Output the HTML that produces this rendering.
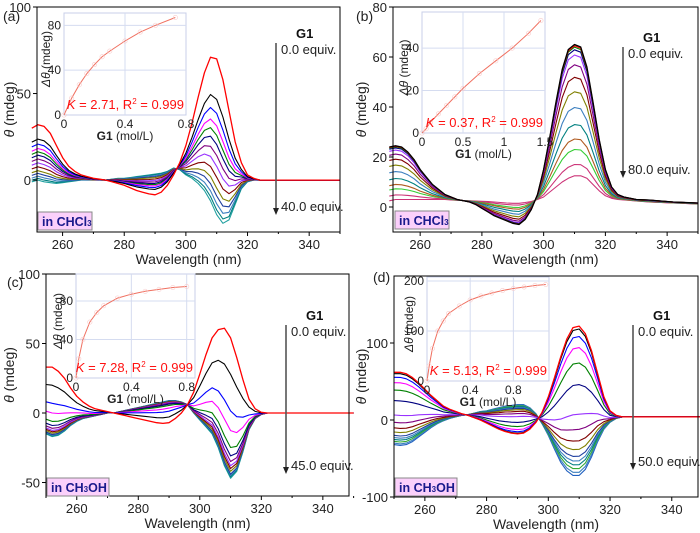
<!DOCTYPE html>
<html><head><meta charset="utf-8"><style>
html,body{margin:0;padding:0;background:#fff;}
svg{display:block;font-family:"Liberation Sans",Arial,sans-serif;}
</style></head><body>
<svg id="fig" width="700" height="533" viewBox="0 0 700 533" xmlns="http://www.w3.org/2000/svg"></svg>
<script>
const wl = [250,252,254,256,258,260,262,264,266,268,270,272,274,276,278,280,282,284,286,288,290,292,294,296,298,300,302,304,306,308,310,312,314,316,318,320,322,324,326,328,330,332,334,336,338,340,342,344,346,348,350];

const aFirst = [30,32,31,27,20,13,8,5,3,2,1,0.5,0,-1,-2,-3,-4.5,-6,-7,-8,-8.5,-7,-3,3,10,20,33,48,62,71,70,58,40,22,10,3,1,0,0,0,0,0,0,0,0,0,0,0,0,0,0];
const aLast = [-1,0,-1,-1.5,-2,-1.5,-1,-0.5,0,0,0,0,0,0.5,1,1,1.5,2,2.5,3,3.5,4,5,7,6,3,1,-2,-6,-12,-20,-25,-23,-14,-5,-1,0,0,0,0,0,0,0,0,0,0,0,0,0,0,0];
const aFrac = [1,0.74,0.65,0.57,0.51,0.45,0.38,0.31,0.24,0.17,0.12,0.07,0.03,0];

const bFirst = [24,24.5,24,22,19,15,12,9,7,5,4,3,2.5,2,1,-0.5,-2,-3.5,-4.5,-5.5,-6.5,-7,-5,-1,5,15,28,42,55,63,65,64,56,42,27,15,8,5,4,3.5,3,2.9,2.8,2.6,2.4,2.2,2,1.9,1.8,1.7,1.6];
const bLast = [2.5,3,3,3,3,3,3,3,3,3,2.8,2.7,2.6,2.5,2.4,2.3,2.2,2,1.8,1.6,1.5,1.5,1.8,2.2,3,4,6,8,10,11.5,12.5,12.5,11.5,9,6.5,4.5,3.5,3,2.8,2.6,2.4,2.2,2,1.9,1.8,1.7,1.6,1.5,1.4,1.3,1.2];
const bFrac = [1,0.99,0.98,0.96,0.92,0.845,0.75,0.64,0.52,0.39,0.28,0.2,0.086,0];

const cFirst = [33,33,30,25,18,12,8,5,3,2,1,0,-1,-2,-3,-4,-5,-6,-7,-7.5,-7,-4,0,6,15,28,42,54,60,61,54,40,24,10,3,0.5,0,0,0,0,0,0,0,0,0,0,0,0,0,0,0];
const cLast = [-15,-17,-16,-13,-9,-6,-4,-3,-2,-1,0,0,1,2,3,4,5,6,7,8,9,9,8,6,0,-5,-10,-15,-25,-38,-47,-42,-28,-12,-4,-1,0,0,0,0,0,0,0,0,0,0,0,0,0,0,0];
const cFrac = [1,0.74,0.48,0.34,0.22,0.16,0.12,0.09,0.07,0.05,0.03,0.02,0.01,0];

const dFirst = [62,62,60,55,48,40,32,25,18,14,11,8,6,3,0,-4,-8,-12,-15,-17,-18,-17,-12,-3,10,30,55,82,105,120,122,112,90,60,30,12,6,4,4,4,4,4,4,4,4,4,4,4,4,4,4];
const dLast = [-32,-33,-32,-28,-22,-16,-10,-5,-1,2,4,6,7,9,11,12,14,16,18,19,20,20,16,8,-5,-20,-38,-55,-66,-72,-72,-64,-48,-28,-12,-3,2,4,4,4,4,4,4,4,4,4,4,4,4,4,4];
const dFrac = [1,0.98,0.93,0.856,0.753,0.608,0.41,0.309,0.232,0.175,0.129,0.098,0.072,0.046,0.021,0];

const insAx = [0,0.05,0.1,0.15,0.2,0.25,0.3,0.4,0.5,0.6,0.73];
const insAy = [0,15,27,37,45,52,57,66,74,80,87];
const insBx = [0,0.05,0.1,0.2,0.3,0.4,0.5,0.7,0.9,1.1,1.3,1.45];
const insBy = [0,2,5,9,13,17,21,28,34,40,47,53];
const insCx = [0,0.02,0.05,0.1,0.15,0.2,0.3,0.4,0.5,0.6,0.7,0.8];
const insCy = [0,20,40,58,68,75,83,87,90,92,94,95];
const insDx = [0,0.02,0.05,0.1,0.15,0.2,0.3,0.4,0.5,0.6,0.7,0.8,0.9,1.0,1.1];
const insDy = [0,30,65,100,120,135,150,162,170,176,181,185,188,191,193];

const xTicks = [260,280,300,320,340];
const aYTicks = [0,50,100];
const bYTicks = [0,20,40,60,80];
const cYTicks = [-50,0,50,100];
const dYTicks = [-100,0,100];

const NS = "http://www.w3.org/2000/svg";
const svg = document.getElementById('fig');
function mk(tag, attrs, parent, text){
  const e = document.createElementNS(NS, tag);
  for (const k in attrs) e.setAttribute(k, attrs[k]);
  if (text !== undefined) e.textContent = text;
  (parent||svg).appendChild(e);
  return e;
}

const colsA = ['#ff0000','#000000','#0000ff','#ff00ff','#008000','#000080','#800080','#9933ff','#800000','#808000','#1f3f9f','#3b7fbf','#008080','#20a0a0'];
const colsB = ['#000000','#ff0000','#008000','#000080','#9933ff','#800080','#800000','#808000','#3b7fbf','#008080','#b05a20','#33cc33','#cc3377','#cc3377'];
const colsD = ['#ff0000','#000000','#0000ff','#ff00ff','#008000','#000080','#9933ff','#800080','#800000','#808000','#1f3f9f','#3b7fbf','#008080','#33aa33','#3b7fbf','#2060c0'];

function panel(p){
  const g = mk('g', {});
  
  
  const sx = v => p.x0 + (v - p.xmin) / (p.xmax - p.xmin) * (p.x1 - p.x0);
  const sy = v => p.y1 - (v - p.ymin) / (p.ymax - p.ymin) * (p.y1 - p.y0);
  const cg = mk('g', {}, g);
  
  
  for (let i = p.frac.length - 1; i >= 0; i--) {
    const f = p.frac[i];
    let d = '';
    for (let j = 0; j < wl.length; j++) {
      const v = p.last[j] + (p.first[j] - p.last[j]) * f;
      let yy = Math.max(p.y0, Math.min(p.y1, sy(v)));
      d += (j ? 'L' : 'M') + sx(wl[j]).toFixed(1) + ',' + yy.toFixed(1);
    }
    const path = mk('path', {d: d, fill: 'none', stroke: p.cols[i % p.cols.length], 'stroke-width': (i === 0 ? 1.3 : 1.1), 'stroke-linejoin': 'round'}, cg);
    
    
  }
  const fr = mk('rect', {x: p.x0, y: p.y0, width: p.x1 - p.x0, height: p.y1 - p.y0, fill: 'none', stroke: '#000', 'stroke-width': 1}, g);
  
  
  for (let w = 250; w <= 350; w += 10) {
    if (w < p.xmin) continue;
    const major = (w % 20 === 0);
    mk('line', {x1: sx(w), x2: sx(w), y1: p.y1, y2: p.y1 + (major ? 4 : 2), stroke: '#000'}, g);
  }
  xTicks.forEach(t => {
    const tx = mk('text', {x: sx(t), y: p.y1 + 17, 'font-size': 13, 'text-anchor': 'middle', fill: '#222'}, g, String(t));
    
    
  });
  p.yTicks.forEach(t => {
    mk('line', {x1: p.x0 - 4, x2: p.x0, y1: sy(t), y2: sy(t), stroke: '#000'}, g);
    const tx = mk('text', {x: p.x0 - 6, y: sy(t) + 5, 'font-size': 13, 'text-anchor': 'end', fill: '#222'}, g, String(t));
    
    
  });
  const xt = mk('text', {x: (p.x0 + p.x1) / 2, y: p.y1 + 32, 'font-size': 14, 'text-anchor': 'middle', fill: '#222'}, g, 'Wavelength (nm)');
  
  
  const yc = (p.y0 + p.y1) / 2 - 10;
  const yt = mk('text', {x: p.ytx, y: yc, 'font-size': 14, 'text-anchor': 'middle', fill: '#222', transform: 'rotate(-90 ' + p.ytx + ' ' + yc + ')'}, g);
  mk('tspan', {'font-style': 'italic'}, yt, 'θ');
  mk('tspan', {}, yt, ' (mdeg)');
  
  
  const pl = mk('text', {x: p.lx, y: p.ly, 'font-size': 14, fill: '#222'}, g, '(' + p.id + ')');
  
  
  const ag = mk('g', {}, g);
  
  
  mk('line', {x1: p.ax, x2: p.ax, y1: p.ay0, y2: p.ay1 - 5, stroke: '#555', 'stroke-width': 1.6}, ag);
  mk('path', {d: `M${p.ax-3},${p.ay1-7}L${p.ax+3},${p.ay1-7}L${p.ax},${p.ay1}Z`, fill: '#222'}, ag);
  mk('text', {x: p.ax + 20, y: p.ay0 - 5, 'font-size': 13, 'font-weight': 'bold', fill: '#111'}, ag, 'G1');
  mk('text', {x: p.ax + 5, y: p.ay0 + 11, 'font-size': 13, fill: '#222'}, ag, '0.0 equiv.');
  mk('text', {x: p.ax + 5, y: p.ay1 - 4, 'font-size': 13, fill: '#222'}, ag, p.endLabel);
  const sb = mk('g', {}, g);
  
  
  mk('rect', {x: p.sbx, y: p.sby, width: p.sbw, height: 18, fill: '#fbd0fb', stroke: '#888', 'stroke-width': 1}, sb);
  const st = mk('text', {x: p.sbx + 4, y: p.sby + 14, 'font-size': 12.5, 'font-weight': 'bold', fill: '#1a1a8c'}, sb, 'in ');
  p.solvent.forEach(s => mk('tspan', s[1] ? {'font-size': 8} : {}, st, s[0]));
  const I = p.inset;
  const ig = mk('g', {}, g);
  
  
  const ix = v => I.x0 + v / I.xmax * (I.x1 - I.x0);
  const iy = v => I.y1 - v / I.ymax * (I.y1 - I.y0);
  mk('rect', {x: I.x0, y: I.y0, width: I.x1 - I.x0, height: I.y1 - I.y0, fill: '#fff', stroke: '#c8cfe8', 'stroke-width': 1}, ig);
  I.xt.forEach(t => {
    if (t > 0 && t < I.xmax) mk('line', {x1: ix(t), x2: ix(t), y1: I.y0, y2: I.y1, stroke: '#d5dcf0', 'stroke-width': 1}, ig);
    mk('text', {x: ix(t), y: I.y1 + 13, 'font-size': 12, 'text-anchor': 'middle', fill: '#222'}, ig, String(t));
  });
  I.yt.forEach(t => {
    if (t > 0) mk('line', {x1: I.x0, x2: I.x1, y1: iy(t), y2: iy(t), stroke: '#d5dcf0', 'stroke-width': 1}, ig);
    mk('text', {x: I.x0 - 3, y: iy(t) + 4, 'font-size': 12, 'text-anchor': 'end', fill: '#222'}, ig, String(t));
  });
  let d = '';
  I.xs.forEach((v, j) => { d += (j ? 'L' : 'M') + ix(v).toFixed(1) + ',' + iy(I.ys[j]).toFixed(1); });
  const fit = mk('path', {d: d, fill: 'none', stroke: '#f07060', 'stroke-width': 1}, ig);
  
  
  I.xs.forEach((v, j) => {
    const c = mk('circle', {cx: ix(v), cy: iy(I.ys[j]), r: 2.2, fill: 'none', stroke: '#f8cccc', 'stroke-width': 0.6}, ig);
    
    
  });
  const iyc = (I.y0 + I.y1) / 2 - 5;
  const iyt = mk('text', {x: I.x0 - 14, y: iyc, 'font-size': 12, 'text-anchor': 'middle', fill: '#222', transform: 'rotate(-90 ' + (I.x0 - 14) + ' ' + iyc + ')'}, ig);
  mk('tspan', {'font-style': 'italic'}, iyt, 'Δθ');
  mk('tspan', {}, iyt, ' (mdeg)');
  const ixt = mk('text', {x: (I.x0 + I.x1) / 2, y: I.y1 + 25, 'font-size': 12, 'text-anchor': 'middle', fill: '#222'}, ig);
  mk('tspan', {'font-weight': 'bold'}, ixt, 'G1');
  mk('tspan', {}, ixt, ' (mol/L)');
  const kt = mk('text', {x: I.x1 - 2, y: I.y1 - 6, 'font-size': 13, 'text-anchor': 'end', fill: '#ff1010'}, ig);
  mk('tspan', {'font-style': 'italic'}, kt, 'K');
  mk('tspan', {}, kt, ' = ' + I.K + ', R');
  mk('tspan', {'font-size': 8, dy: -5}, kt, '2');
  mk('tspan', {dy: 5}, kt, ' = 0.999');
  
  
}

panel({id:'a', x0:37, x1:340, y0:7, y1:232, xmin:251.7, xmax:350, ymin:-30, ymax:100,
  first:aFirst, last:aLast, frac:aFrac, cols:colsA, yTicks:aYTicks, ytx:14, lx:3, ly:21,
  ax:276, ay0:43, ay1:215, endLabel:'40.0 equiv.', sbx:38, sby:212, sbw:54, solvent:[['CHCl',0],['3',1]],
  inset:{x0:64, x1:186, y0:13, y1:115, xmax:0.8, ymax:91, xt:[0,0.4,0.8], yt:[0,40,80], xs:insAx, ys:insAy, K:'2.71'}});
panel({id:'b', x0:393, x1:698, y0:7, y1:232, xmin:251.2, xmax:350, ymin:-10, ymax:80,
  first:bFirst, last:bLast, frac:bFrac, cols:colsB, yTicks:bYTicks, ytx:366, lx:356, ly:21,
  ax:623, ay0:47, ay1:178, endLabel:'80.0 equiv.', sbx:395, sby:211, sbw:54, solvent:[['CHCl',0],['3',1]],
  inset:{x0:422, x1:545, y0:12, y1:133, xmax:1.5, ymax:57, xt:[0,0.5,1,1.5], yt:[0,20,40], xs:insBx, ys:insBy, K:'0.37'}});
panel({id:'c', x0:46, x1:349, y0:274, y1:496, xmin:250, xmax:348.5, ymin:-59.7, ymax:100,
  first:cFirst, last:cLast, frac:cFrac, cols:colsA, yTicks:cYTicks, ytx:14, lx:7, ly:287,
  ax:286, ay0:325, ay1:474, endLabel:'45.0 equiv.', sbx:47, sby:478, sbw:62, solvent:[['CH',0],['3',1],['OH',0]],
  inset:{x0:76, x1:195, y0:274, y1:378, xmax:0.86, ymax:108, xt:[0,0.4,0.8], yt:[0,40,80], xs:insCx, ys:insCy, K:'7.28'}});
panel({id:'d', x0:394, x1:698, y0:276, y1:497, xmin:250, xmax:348.5, ymin:-100, ymax:187,
  first:dFirst, last:dLast, frac:dFrac, cols:colsD, yTicks:dYTicks, ytx:366, lx:373, ly:282,
  ax:633, ay0:325, ay1:470, endLabel:'50.0 equiv.', sbx:395, sby:478, sbw:62, solvent:[['CH',0],['3',1],['OH',0]],
  inset:{x0:427, x1:549, y0:277, y1:381, xmax:1.13, ymax:208, xt:[0,0.4,0.8], yt:[0,100,200], xs:insDx, ys:insDy, K:'5.13'}});
</script>
</body></html>
